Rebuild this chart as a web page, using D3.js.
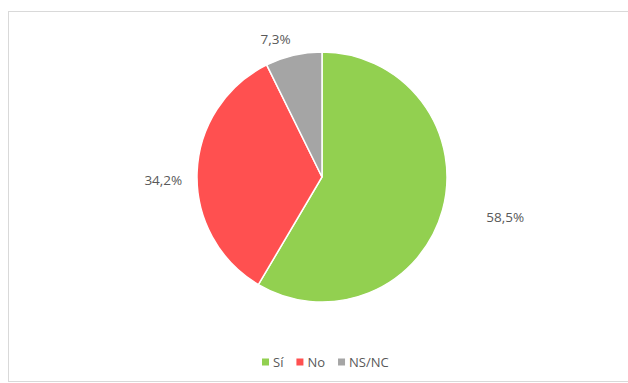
<!DOCTYPE html>
<html><head><meta charset="utf-8">
<script src="https://cdn.jsdelivr.net/npm/d3@7"></script>
<style>html,body{margin:0;padding:0;background:#fff;}svg{display:block;}</style>
</head><body>
<svg id="c" width="628" height="383"></svg>
<script>
const categories = ["Sí", "No", "NS/NC"];
const values = [58.5, 34.2, 7.3];
const labels = ["58,5%", "34,2%", "7,3%"];
const colors = ["#92D050", "#FF5050", "#A5A5A5"];
const labelDist = [1.5, 1.27, 1.16];
const labelRot = [-3, -3.3, -5.5];

const svg = d3.select("#c");
svg.append("rect").attr("x", 8.5).attr("y", 11.5).attr("width", 640).attr("height", 370)
  .attr("fill", "#fff").attr("stroke", "#d9d9d9").attr("stroke-width", 1);

const cx = 322, cy = 177, r = 125;
const font = "'Open Sans', sans-serif";
const g = svg.append("g").attr("transform", `translate(${cx},${cy})`);
const pie = d3.pie().sort(null).value(d => d);
const arcs = pie(values);
const arc = d3.arc().innerRadius(0).outerRadius(r);
g.selectAll("path").data(arcs).join("path")
  .attr("d", arc).attr("fill", (d, i) => colors[i])
  .attr("stroke", "#fff").attr("stroke-width", 1.5);

g.selectAll("text.lbl").data(arcs).join("text")
  .attr("class", "lbl")
  .attr("transform", (d, i) => {
    const a = (d.startAngle + d.endAngle) / 2 + labelRot[i] * Math.PI / 180;
    const rr = r * labelDist[i];
    return `translate(${Math.sin(a) * rr},${-Math.cos(a) * rr})`;
  })
  .attr("text-anchor", "middle").attr("dy", "0.35em")
  .attr("font-family", font).attr("font-size", 13.5)
  .attr("fill", "#595959").text((d, i) => labels[i]);

// legend
const legend = svg.append("g").attr("transform", "translate(0,362)");
let x = 262;
categories.forEach((c, i) => {
  legend.append("rect").attr("x", x).attr("y", -3.5).attr("width", 7).attr("height", 7).attr("fill", colors[i]);
  const t = legend.append("text").attr("x", x + 11).attr("y", 0).attr("dy", "0.35em")
    .attr("font-family", font).attr("font-size", 13).attr("fill", "#595959").text(c);
  x += 11 + t.node().getComputedTextLength() + 13;
});
</script>
</body></html>
